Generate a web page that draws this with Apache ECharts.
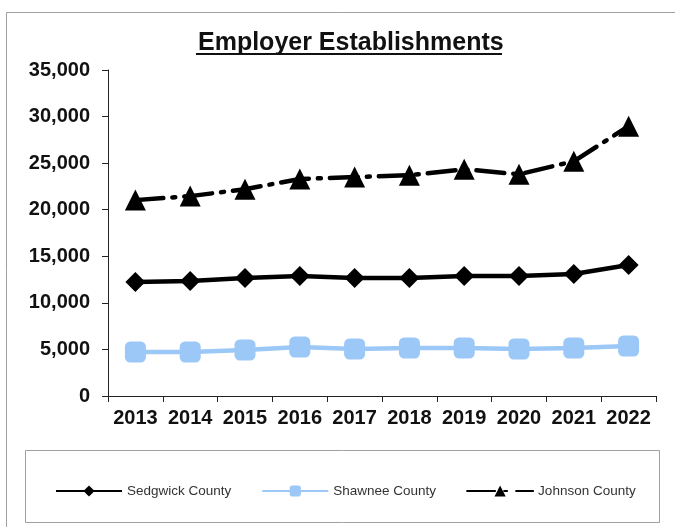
<!DOCTYPE html>
<html>
<head>
<meta charset="utf-8">
<script src="https://cdn.jsdelivr.net/npm/echarts@6/dist/echarts.min.js"></script>
<style>
  html, body { margin: 0; padding: 0; background: #fff; }
  #chart { width: 675px; height: 527px; }
</style>
</head>
<body>
<div id="chart"></div>
<script>
  var years = ['2013', '2014', '2015', '2016', '2017', '2018', '2019', '2020', '2021', '2022'];
  var sedgwick = [12230, 12340, 12660, 12880, 12660, 12660, 12880, 12880, 13090, 14060];
  var shawnee = [4720, 4720, 4940, 5260, 5040, 5150, 5150, 5040, 5150, 5360];
  var johnson = [21030, 21460, 22200, 23300, 23500, 23700, 24350, 23800, 25200, 28970];
  var yTicks = { min: 0, max: 35000, interval: 5000 };

  var font = '"Liberation Sans", Arial, sans-serif';
  var chart = echarts.init(document.getElementById('chart'));

  chart.setOption({
    animation: false,
    backgroundColor: '#fff',
    title: {
      text: 'Employer Establishments',
      left: 193,
      top: 26,
      textStyle: { fontFamily: font, fontSize: 25, fontWeight: 'bold', color: '#111' }
    },
    graphic: [
      { type: 'rect', shape: { x: 6.5, y: 12.5, width: 700, height: 540 }, style: { fill: 'none', stroke: '#a0a0a0', lineWidth: 1 }, z: -1 },
      { type: 'rect', shape: { x: 25.5, y: 450.5, width: 634, height: 72 }, style: { fill: 'none', stroke: '#a0a0a0', lineWidth: 1 }, z: -1 },
      // underline for the title
      { type: 'line', shape: { x1: 196, y1: 54, x2: 502, y2: 54 }, style: { stroke: '#111', lineWidth: 2 } }
    ],
    legend: {
      top: 479,
      left: 50,
      itemWidth: 66,
      itemHeight: 14,
      itemGap: 30,
      textStyle: { fontFamily: font, fontSize: 13.5, color: '#333' },
      data: ['Sedgwick County', 'Shawnee County', 'Johnson County']
    },
    grid: { left: 108, right: 19, top: 70, bottom: 131 },
    xAxis: {
      type: 'category',
      data: years,
      boundaryGap: true,
      axisLine: { lineStyle: { color: '#222', width: 1 } },
      axisTick: { show: true, interval: 0, length: 6, lineStyle: { color: '#222' } },
      axisLabel: { interval: 0, fontFamily: font, fontSize: 20, fontWeight: 'bold', color: '#111', margin: 12 }
    },
    yAxis: {
      type: 'value',
      min: yTicks.min,
      max: yTicks.max,
      interval: yTicks.interval,
      axisLine: { show: true, lineStyle: { color: '#222', width: 1 } },
      axisTick: { show: true, length: 6, lineStyle: { color: '#222' } },
      splitLine: { show: false },
      axisLabel: {
        fontFamily: font, fontSize: 20, fontWeight: 'bold', color: '#111', margin: 18,
        formatter: function (v) { return v.toLocaleString('en-US'); }
      }
    },
    series: [
      {
        name: 'Sedgwick County',
        type: 'line',
        data: sedgwick,
        symbol: 'diamond',
        symbolSize: 20,
        itemStyle: { color: '#000' },
        lineStyle: { color: '#000', width: 4.5 }
      },
      {
        name: 'Shawnee County',
        type: 'line',
        data: shawnee,
        symbol: 'roundRect',
        symbolSize: 21,
        itemStyle: { color: '#9cc8f8' },
        lineStyle: { color: '#9cc8f8', width: 4.5 }
      },
      {
        name: 'Johnson County',
        type: 'line',
        data: johnson,
        symbol: 'triangle',
        symbolSize: 21,
        itemStyle: { color: '#000' },
        lineStyle: { color: '#000', width: 4.5, type: [28, 9, 3, 9], cap: 'round' }
      }
    ]
  });
</script>
</body>
</html>
